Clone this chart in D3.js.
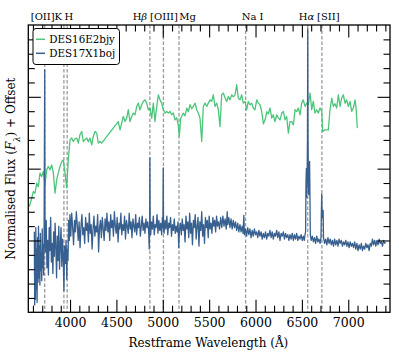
<!DOCTYPE html>
<html>
<head>
<meta charset="utf-8">
<script src="https://cdn.jsdelivr.net/npm/d3@7"></script>
<style>
  body { margin: 0; background: #fff; }
  svg { display: block; font-family: "DejaVu Serif", serif; }
</style>
</head>
<body>
<svg width="399" height="359"></svg>
<script>
// spectra: [restframe wavelength (A), normalised flux + offset]
var spec16E2bjy = [
  [3561,7.36],[3587,7.94],[3604,8.40],[3622,8.29],[3641,8.99],[3658,8.75],[3676,9.69],[3694,9.45],
  [3712,9.80],[3730,8.87],[3748,9.92],[3766,10.15],[3784,9.92],[3802,10.26],[3820,9.69],[3838,8.29],
  [3856,9.22],[3873,9.69],[3892,10.15],[3910,10.49],[3927,10.61],[3946,9.71],[3964,8.66],[3981,10.61],
  [4000,12.01],[4018,12.13],[4035,11.89],[4054,12.08],[4072,12.13],[4089,11.78],[4107,12.36],[4126,12.59],
  [4143,11.89],[4161,12.01],[4180,12.13],[4197,11.87],[4215,12.13],[4234,11.66],[4251,12.24],[4269,12.59],
  [4288,12.47],[4305,11.78],[4323,11.89],[4341,11.78],
  [4520,13.28],[4539,12.70],[4557,13.17],[4574,13.63],[4593,13.28],[4611,13.54],[4628,14.10],[4647,13.28],
  [4665,13.63],[4682,13.87],[4701,13.75],[4719,14.33],[4736,14.56],[4754,14.10],[4773,14.45],[4790,14.68],
  [4808,14.79],[4827,14.56],[4844,14.10],[4862,14.22],[4881,13.52],[4898,14.56],[4916,13.28],[4935,14.33],
  [4952,15.14],[4970,14.79],[4988,14.56],[5006,14.10],[5024,13.87],[5042,13.98],[5060,13.87],[5078,13.98],
  [5096,13.75],[5114,13.87],[5132,13.40],[5150,13.54],[5167,13.05],[5178,12.24],[5193,13.52],[5204,13.63],
  [5221,13.87],[5240,13.68],[5258,14.22],[5275,13.96],[5294,14.45],[5312,14.17],[5329,14.33],[5348,14.56],
  [5366,14.10],[5383,13.87],[5401,13.52],[5420,11.89],[5437,14.33],[5455,14.56],[5474,14.33],[5491,14.56],
  [5509,14.79],[5528,14.68],[5545,15.14],[5563,14.33],[5582,14.56],[5599,14.10],[5617,12.93],[5635,15.14],
  [5653,15.26],[5671,14.93],[5689,14.68],[5707,15.02],[5725,14.79],[5743,15.14],[5761,15.00],[5779,15.14],
  [5797,15.84],[5814,14.91],[5833,14.79],[5851,15.14],[5868,14.56],[5887,14.68],[5905,14.10],[5922,14.68],
  [5940,14.45],[5959,14.56],[5976,14.22],[5994,14.10],[6013,14.79],[6030,14.56],[6048,14.45],[6067,13.96],
  [6085,13.12],[6103,13.40],[6121,13.96],[6138,13.82],[6156,14.22],[6175,13.52],[6192,13.75],[6210,13.28],
  [6229,13.75],[6246,13.52],[6264,13.40],[6283,13.87],[6300,13.98],[6318,13.40],[6336,13.63],[6354,12.47],
  [6372,13.28],[6390,13.28],[6408,13.05],[6426,14.10],[6444,13.98],[6461,14.22],[6480,13.75],[6498,14.56],
  [6515,14.79],[6534,14.33],[6552,14.56],[6569,14.45],[6588,15.26],[6606,14.10],[6623,14.68],[6641,13.87],
  [6660,14.10],[6677,13.87],[6695,14.22],[6714,13.98],[6724,12.59],[6749,12.70],[6785,12.70],[6803,14.10],
  [6822,14.91],[6839,14.33],[6857,14.52],[6875,14.22],[6893,15.14],[6911,14.33],[6929,14.91],[6947,15.14],
  [6965,14.56],[6983,14.79],[7001,14.33],[7019,14.68],[7037,13.98],[7055,14.22],[7073,14.79],[7084,14.22],
  [7098,12.82]
];

var spec17X1boj = [
  [3615,5.6],[3619,0.5],[3623,4.9],[3627,0.9],[3631,5.9],[3636,1.6],[3640,4.4],[3645,0.7],[3650,5.2],
  [3655,2.1],[3660,6.0],[3665,2.4],[3670,4.6],[3675,1.9],[3680,5.5],[3685,2.9],[3690,4.1],[3695,2.2],
  [3700,5.8],[3705,3.1],[3710,4.7],[3715,2.6],[3720,5.0],[3724,12.0],[3727,16.88],[3730,6.0],
  [3735,4.2],[3743,6.4],[3751,3.1],[3759,5.0],[3767,2.6],[3775,5.9],[3783,4.3],[3791,6.6],[3799,3.5],
  [3807,4.8],[3815,2.7],[3823,5.6],[3831,3.9],[3839,6.2],[3847,4.6],[3855,2.4],[3863,5.3],[3871,3.6],
  [3879,6.0],[3887,3.0],[3895,4.7],[3903,5.9],[3911,3.2],[3919,5.1],[3927,3.8],
  [3934,1.5],[3941,4.6],[3949,3.4],[3957,5.0],[3965,2.3],[3971,4.4],[3978,3.6],
  [3985,6.4],[3992,5.0],[3999,6.8],
  [4008,5.3],[4018,6.9],[4028,5.9],[4038,4.7],[4048,6.4],[4058,5.6],[4068,7.0],[4078,6.1],[4088,5.0],
  [4098,6.3],[4108,4.5],[4118,6.0],[4128,6.8],[4138,5.4],[4148,5.9],[4158,4.8],[4168,6.6],[4178,5.7],
  [4188,6.2],[4198,4.9],[4208,6.9],[4218,5.5],[4228,6.1],[4238,4.4],[4248,5.8],[4258,6.7],[4268,5.3],
  [4278,6.0],[4288,5.6],[4298,6.8],[4308,4.2],[4318,5.9],[4328,6.4],[4338,5.2],[4348,6.6],[4358,5.8],
  [4368,5.0],[4378,6.5],[4388,5.7],[4398,6.9],
  [4408,5.6],[4418,6.3],[4428,5.0],[4438,6.8],[4448,5.9],[4458,6.4],[4468,5.3],[4478,7.0],[4488,6.0],
  [4498,5.5],[4508,6.6],[4518,4.9],[4528,6.2],[4538,5.8],[4548,6.9],[4558,5.4],[4568,6.1],[4578,5.7],
  [4588,6.7],[4598,5.1],[4608,6.4],[4618,6.0],[4628,5.5],[4638,6.9],[4648,5.8],[4658,6.3],[4668,5.2],
  [4678,6.5],[4688,6.0],[4698,5.6],[4708,6.8],[4718,5.4],[4728,6.2],[4738,5.9],[4748,6.6],[4758,5.3],
  [4768,6.0],[4778,6.7],[4788,5.7],[4798,6.2],[4808,5.5],[4818,6.5],[4828,5.9],[4838,6.3],[4848,5.6],
  [4854,4.4],[4858,6.0],[4861,10.75],[4864,6.2],[4870,5.4],
  [4878,6.3],[4888,5.8],[4898,6.7],[4908,5.4],[4918,6.1],[4928,5.9],[4938,6.8],[4948,5.5],[4958,6.4],
  [4968,5.7],[4978,6.2],[4988,5.4],[4996,6.6],[5001,5.9],[5005,10.06],[5008,6.0],[5014,5.5],[5024,6.4],
  [5034,5.8],[5044,6.7],[5054,5.4],[5064,6.2],[5074,5.9],[5084,6.6],[5094,5.3],[5104,6.1],[5114,5.7],
  [5124,6.5],[5134,5.5],[5144,6.0],[5154,5.6],[5164,6.3],[5172,4.5],[5180,5.8],[5190,6.2],[5200,5.4],
  [5210,6.5],[5220,5.7],[5230,6.1],[5240,4.9],[5250,6.7],[5260,5.8],[5270,6.3],[5280,5.2],[5290,6.9],
  [5300,5.5],[5310,6.2],[5320,4.7],[5330,6.4],[5340,5.9],[5350,6.8],[5360,5.1],[5370,6.0],[5380,6.6],
  [5390,4.6],[5400,6.3],[5410,5.7],[5420,7.0],[5430,5.3],[5440,6.1],[5450,4.8],[5460,6.6],[5470,5.9],
  [5480,6.4],[5490,5.2],[5500,6.7],[5510,5.8],[5520,6.2],[5530,5.5],[5540,6.6],[5550,6.0],[5560,6.4],
  [5570,5.6],[5580,6.7],[5590,6.0],[5600,6.3],
  [5612,5.8],[5624,6.6],[5636,5.9],[5648,6.7],[5660,6.0],[5672,6.5],[5684,5.8],[5695,7.0],[5700,6.1],
  [5712,6.6],[5724,5.9],[5736,6.5],[5748,5.8],[5760,6.4],[5772,5.9],[5784,6.3],[5796,5.7],[5808,6.2],
  [5820,5.6],[5832,6.1],[5844,5.6],[5856,6.0],[5866,5.5],[5874,6.75],[5880,5.4],
  [5892,5.8],[5904,5.3],[5916,5.9],[5928,5.4],[5940,5.8],[5952,5.2],[5964,5.7],[5976,5.3],[5988,5.8],
  [6000,5.4],[6012,5.6],[6024,5.2],[6036,5.7],[6048,5.3],[6060,5.6],[6072,5.1],[6084,5.5],[6096,5.2],
  [6108,5.6],[6120,5.1],[6132,5.5],[6144,5.3],[6156,5.7],[6168,5.2],[6180,5.6],[6192,5.1],[6204,5.5],
  [6216,5.3],[6228,5.7],[6240,5.2],[6252,5.6],[6264,5.0],[6276,5.5],[6288,5.3],[6300,5.6],[6312,5.1],
  [6324,5.5],[6336,5.2],[6348,5.4],[6360,5.0],[6372,5.4],[6384,5.1],[6396,5.5],[6408,5.0],[6420,5.4],
  [6432,5.1],[6444,5.5],[6456,5.0],[6468,5.3],[6480,5.1],[6492,5.4],[6504,5.0],[6516,5.3],[6526,5.0],
  [6534,5.4],
  [6540,5.6],[6544,9.0],[6548,10.0],[6552,8.0],[6556,9.2],[6560,12.0],[6563,19.74],[6566,12.5],
  [6570,9.0],[6574,8.2],[6578,9.4],[6583,10.5],[6587,8.0],[6591,5.4],
  [6600,5.0],[6612,5.3],[6624,4.9],[6636,5.2],[6648,4.8],[6660,5.3],[6672,4.9],[6684,5.1],[6696,4.8],
  [6706,5.2],[6710,7.0],[6714,8.24],[6718,6.6],[6724,6.8],[6729,7.1],[6733,5.2],
  [6745,4.8],[6757,5.1],[6769,4.7],[6781,5.2],[6793,4.8],[6805,5.1],[6817,4.7],[6829,5.0],[6841,4.6],
  [6853,5.1],[6865,4.7],[6877,5.0],[6889,4.6],[6901,5.1],[6913,4.8],[6925,5.0],[6937,4.6],[6949,4.9],
  [6961,4.7],[6973,5.0],[6985,4.6],[6997,4.9],[7009,4.5],[7021,4.9],[7033,4.6],[7045,4.8],[7057,4.5],
  [7069,4.9],[7081,4.4],[7093,4.8],[7105,4.3],[7117,4.7],[7129,4.4],[7141,4.8],[7153,4.3],[7165,4.6],
  [7177,4.4],[7189,4.8],[7201,4.5],[7213,4.7],[7225,4.3],[7237,4.8],[7249,4.6],[7261,5.1],[7273,4.7],
  [7285,5.0],[7297,4.6],[7309,5.0],[7321,4.7],[7333,5.1],[7345,4.8],[7357,4.9],[7369,4.6],[7381,5.0],
  [7393,4.8],[7400,4.9]
];

var seriesNames = ["DES16E2bjy", "DES17X1boj"];
var lineNames = ["[OII]", "K", "H", "H\u03b2", "[OIII]", "Mg", "Na I", "H\u03b1", "[SII]"];
var lineWaves = [3727, 3934, 3969, 4861, 5007, 5175, 5893, 6563, 6716];
var xMajorTicks = [4000, 4500, 5000, 5500, 6000, 6500, 7000];

var margin = {top: 25, right: 9, bottom: 46.7, left: 28.3},
    width = 399 - margin.left - margin.right,
    height = 359 - margin.top - margin.bottom;

var col = ["#4cc57a", "#375f8f"];

var svg = d3.select("svg")
    .append("g").attr("transform", "translate(" + margin.left + "," + margin.top + ")");

var xScale = d3.scaleLinear().domain([3550, 7450]).range([0, width]);
var yScale = d3.scaleLinear().domain([0, 20]).range([height, 0]);

svg.append("clipPath").attr("id", "plot")
  .append("rect").attr("width", width).attr("height", height);

// dashed line markers (behind spectra)
svg.append("g").selectAll("line")
  .data(lineWaves)
  .enter().append("line")
    .attr("x1", function(d) { return xScale(d); })
    .attr("x2", function(d) { return xScale(d); })
    .attr("y1", 0).attr("y2", height)
    .attr("stroke", "#9a9a9a")
    .attr("stroke-width", 1.3)
    .attr("stroke-dasharray", "3.5,2");

// label nudges so neighbouring names don't collide
var labelDx = [-2, -5.6, 1.8, -10, 0.6, 8.5, 7, -1.2, 6.4];
svg.append("g").selectAll("text")
  .data(lineNames)
  .enter().append("text")
    .attr("x", function(d, i) { return xScale(lineWaves[i]) + labelDx[i]; })
    .attr("y", -5.5)
    .attr("text-anchor", "middle")
    .style("font-size", "10px")
    .each(function(d) {
      var t = d3.select(this);
      if (d === "H\u03b2" || d === "H\u03b1") {
        t.append("tspan").text("H");
        t.append("tspan").style("font-style", "italic").text(d.slice(1));
      } else {
        t.text(d);
      }
    });

var line = d3.line()
    .x(function(d) { return xScale(d[0]); })
    .y(function(d) { return yScale(d[1]); });

var spectra = [spec16E2bjy, spec17X1boj];
svg.append("g").attr("clip-path", "url(#plot)")
  .selectAll("path")
  .data(spectra)
  .enter().append("path")
    .attr("d", line)
    .attr("fill", "none")
    .attr("stroke", function(d, i) { return col[i]; })
    .attr("stroke-width", 1.3)
    .attr("stroke-linejoin", "round");

// axes, ticks pointing in on all four sides
var xMinor = d3.range(3600, 7401, 100).filter(function(v) { return v % 500 !== 0; });
var yMinor = d3.range(1, 20).filter(function(v) { return v % 5 !== 0; });
var yMajor = [5, 10, 15];

function styleAxis(g) {
  g.selectAll(".domain").remove();
  g.selectAll("line").attr("stroke", "#000").attr("stroke-width", 1.1);
  g.selectAll("text").style("font-size", "12.5px").style("font-family", "DejaVu Serif").attr("fill", "#000");
}

svg.append("g").attr("transform", "translate(0," + height + ")")
  .call(d3.axisBottom(xScale).tickValues(xMajorTicks).tickSize(-12.5).tickPadding(5.5).tickFormat(d3.format("d")))
  .call(styleAxis);
svg.append("g").attr("transform", "translate(0," + height + ")")
  .call(d3.axisBottom(xScale).tickValues(xMinor).tickSize(-6.5).tickFormat(""))
  .call(styleAxis);
svg.append("g")
  .call(d3.axisTop(xScale).tickValues(xMajorTicks).tickSize(-12.5).tickFormat(""))
  .call(styleAxis);
svg.append("g")
  .call(d3.axisTop(xScale).tickValues(xMinor).tickSize(-6.5).tickFormat(""))
  .call(styleAxis);
svg.append("g")
  .call(d3.axisLeft(yScale).tickValues(yMajor).tickSize(-12.5).tickFormat(""))
  .call(styleAxis);
svg.append("g")
  .call(d3.axisLeft(yScale).tickValues(yMinor).tickSize(-6.5).tickFormat(""))
  .call(styleAxis);
svg.append("g").attr("transform", "translate(" + width + ",0)")
  .call(d3.axisRight(yScale).tickValues(yMajor).tickSize(-12.5).tickFormat(""))
  .call(styleAxis);
svg.append("g").attr("transform", "translate(" + width + ",0)")
  .call(d3.axisRight(yScale).tickValues(yMinor).tickSize(-6.5).tickFormat(""))
  .call(styleAxis);

svg.append("rect")
    .attr("width", width).attr("height", height)
    .attr("fill", "none").attr("stroke", "#000").attr("stroke-width", 1.3);

// legend
var legend = svg.append("g").attr("transform", "translate(4.7,3.5)");
legend.append("rect")
    .attr("width", 86.5).attr("height", 36)
    .attr("rx", 3).attr("ry", 3)
    .attr("fill", "#fff").attr("stroke", "#000").attr("stroke-width", 1);
seriesNames.forEach(function(name, i) {
  var ly = 10.8 + i * 14;
  legend.append("line")
    .attr("x1", 3).attr("x2", 12).attr("y1", ly).attr("y2", ly)
    .attr("stroke", col[i]).attr("stroke-width", 1.5);
  legend.append("text")
    .attr("x", 16.3).attr("y", ly).attr("dy", "0.35em")
    .style("font-size", "10.3px")
    .text(name);
});

// axis titles
svg.append("text")
    .attr("x", xScale(5500) - 0.8).attr("y", height + 34.5)
    .attr("text-anchor", "middle")
    .style("font-size", "12px")
    .text("Restframe Wavelength (\u00c5)");

var yt = svg.append("text")
    .attr("transform", "translate(" + (-13.5) + "," + (height / 2) + ") rotate(-90)")
    .attr("text-anchor", "middle")
    .style("font-size", "12px");
yt.append("tspan").text("Normalised Flux (");
yt.append("tspan").style("font-style", "italic").text("F");
yt.append("tspan").attr("baseline-shift", "sub").style("font-size", "8.5px").style("font-style", "italic").text("\u03bb");
yt.append("tspan").text(") + Offset");
</script>
</body>
</html>
